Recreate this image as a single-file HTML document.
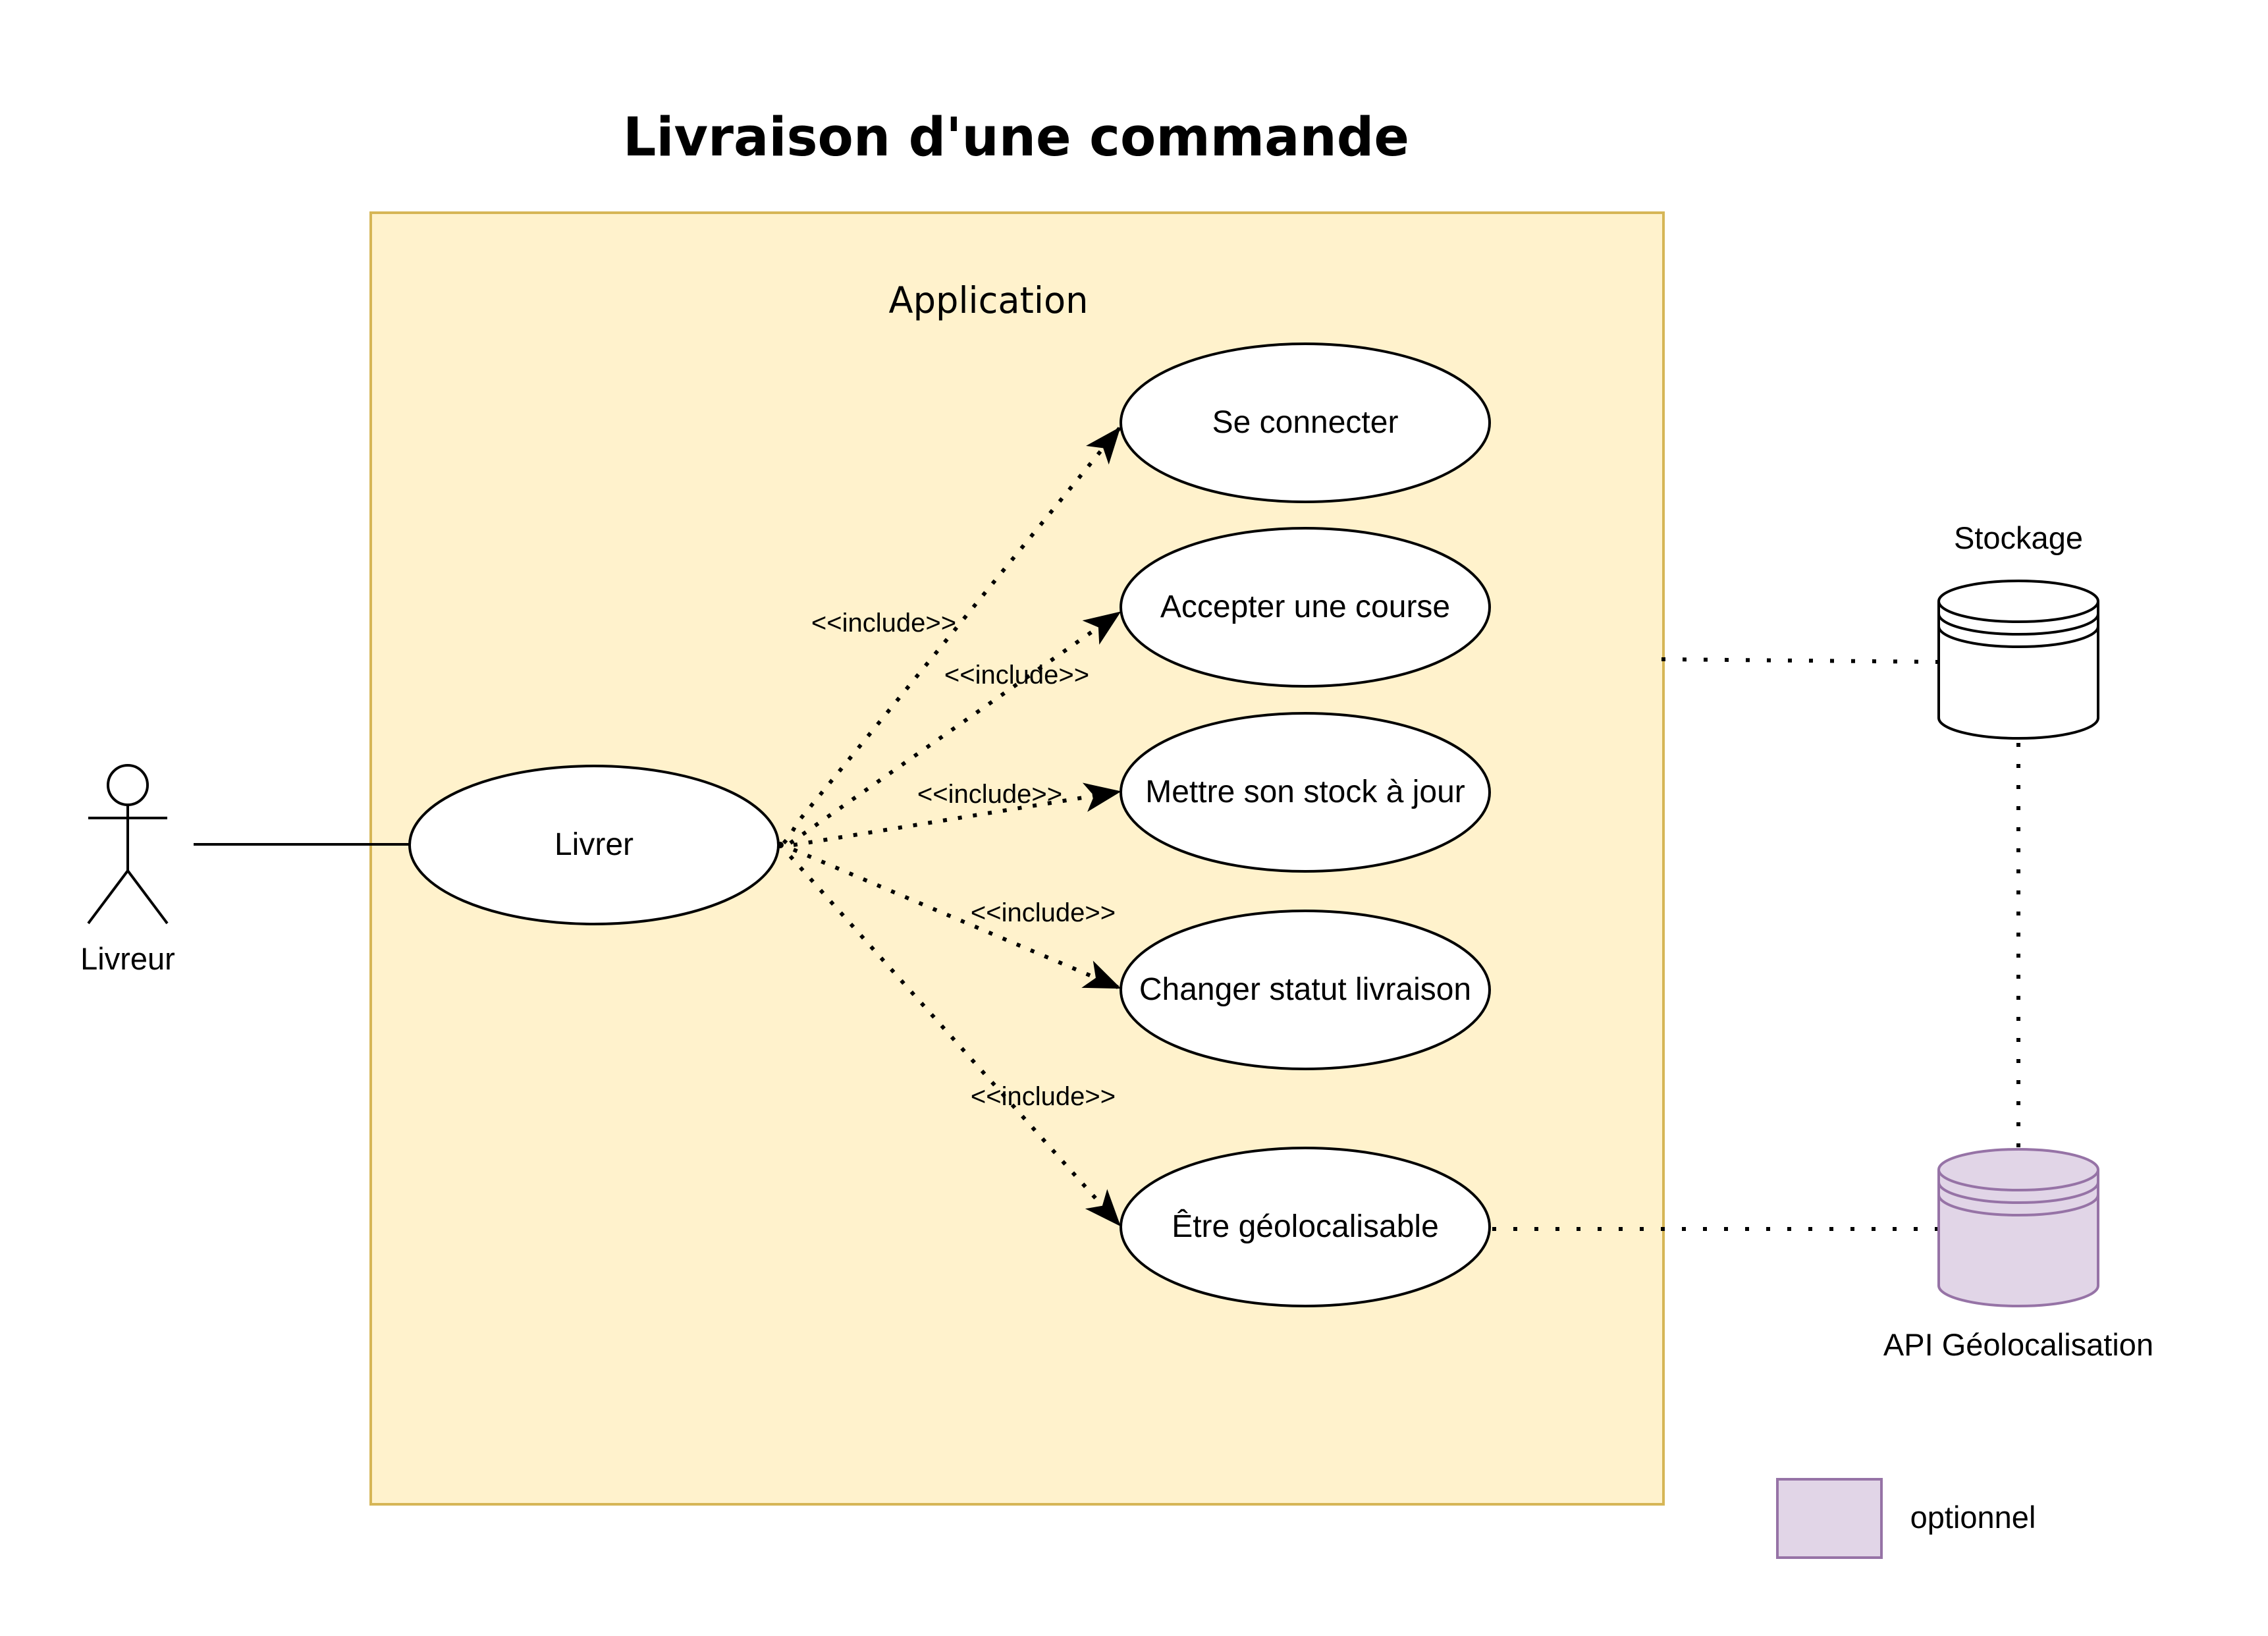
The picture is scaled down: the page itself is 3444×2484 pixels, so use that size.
<!DOCTYPE html>
<html><head><meta charset="utf-8"><style>html,body{margin:0;padding:0;background:#fff}svg{display:block}</style></head>
<body>
<svg width="3444" height="2484" viewBox="0 0 3444 2484" xmlns="http://www.w3.org/2000/svg">
<defs>
<marker id="ar2" viewBox="0 0 40 40" refX="38" refY="20" markerWidth="56" markerHeight="56" markerUnits="userSpaceOnUse" orient="auto">
<path d="M0,4 L40,20 L0,36 L10,20 Z" fill="#000"/>
</marker>
</defs>
<rect width="3444" height="2484" fill="#fff"/>
<text x="1543" y="236" font-family="DejaVu Sans, sans-serif" font-weight="bold" font-size="81" text-anchor="middle" textLength="1194" lengthAdjust="spacingAndGlyphs">Livraison d'une commande</text>
<rect x="563" y="323" width="1963" height="1961" fill="#fff2cc" stroke="#d6b656" stroke-width="4"/>
<text x="1501" y="475" font-family="DejaVu Sans, sans-serif" font-size="55" text-anchor="middle" textLength="303" lengthAdjust="spacingAndGlyphs">Application</text>

<g stroke="#000" stroke-width="4" fill="none">
<ellipse cx="194" cy="1192" rx="30" ry="30" fill="#fff"/>
<line x1="194" y1="1222" x2="194" y2="1322"/>
<line x1="134" y1="1242" x2="254" y2="1242"/>
<line x1="194" y1="1322" x2="134" y2="1402"/>
<line x1="194" y1="1322" x2="254" y2="1402"/>
<line x1="294" y1="1282" x2="623" y2="1282"/>
</g>
<text x="194" y="1472" font-family="Liberation Sans, sans-serif" font-size="47" text-anchor="middle">Livreur</text>

<g stroke="#000" stroke-width="6" fill="none" stroke-dasharray="6 17">
<path d="M1190,1280 Q1200,1270 1210,1250 L1700,650" marker-end="url(#ar2)"/>
<path d="M1200,1280 L1700,930" marker-end="url(#ar2)"/>
<path d="M1205,1283 L1700,1202" marker-end="url(#ar2)"/>
<path d="M1205,1290 L1700,1500" marker-end="url(#ar2)"/>
<path d="M1200,1300 L1700,1860" marker-end="url(#ar2)"/>
</g>
<circle cx="1185" cy="1283" r="5" fill="#000"/>

<g stroke="#000" stroke-width="4" fill="#fff">
<ellipse cx="902" cy="1283" rx="280" ry="120"/>
<ellipse cx="1982" cy="642" rx="280" ry="120"/>
<ellipse cx="1982" cy="922" rx="280" ry="120"/>
<ellipse cx="1982" cy="1203" rx="280" ry="120"/>
<ellipse cx="1982" cy="1503" rx="280" ry="120"/>
<ellipse cx="1982" cy="1863" rx="280" ry="120"/>
</g>
<g font-family="Liberation Sans, sans-serif" font-size="48" text-anchor="middle">
<text x="902" y="1298">Livrer</text>
<text x="1982" y="657">Se connecter</text>
<text x="1982" y="937">Accepter une course</text>
<text x="1982" y="1218">Mettre son stock à jour</text>
<text x="1982" y="1518">Changer statut livraison</text>
<text x="1982" y="1878">Être géolocalisable</text>
</g>
<g font-family="Liberation Sans, sans-serif" font-size="40" text-anchor="middle">
<text x="1342" y="959">&lt;&lt;include&gt;&gt;</text>
<text x="1544" y="1038">&lt;&lt;include&gt;&gt;</text>
<text x="1503" y="1219">&lt;&lt;include&gt;&gt;</text>
<text x="1584" y="1399">&lt;&lt;include&gt;&gt;</text>
<text x="1584" y="1678">&lt;&lt;include&gt;&gt;</text>
</g>

<g stroke="#000" stroke-width="6" fill="none" stroke-dasharray="6 26">
<line x1="2523" y1="1001" x2="2945" y2="1005"/>
<line x1="3065" y1="1128" x2="3065" y2="1745"/>
<line x1="2266" y1="1866" x2="2945" y2="1866"/>
</g>

<text x="3065" y="833" font-family="Liberation Sans, sans-serif" font-size="47" text-anchor="middle">Stockage</text>
<g stroke="#000" stroke-width="4" fill="#fff">
<path d="M2944,913 A121,31 0 0 1 3186,913 L3186,1090 A121,31 0 0 1 2944,1090 Z"/>
<path d="M2944,913 A121,31 0 0 0 3186,913" fill="none"/>
<path d="M2944,932 A121,31 0 0 0 3186,932" fill="none"/>
<path d="M2944,951 A121,31 0 0 0 3186,951" fill="none"/>
</g>

<g stroke="#9673a6" stroke-width="4" fill="#e1d5e7">
<path d="M2944,1776 A121,31 0 0 1 3186,1776 L3186,1952 A121,31 0 0 1 2944,1952 Z"/>
<path d="M2944,1776 A121,31 0 0 0 3186,1776" fill="none"/>
<path d="M2944,1795 A121,31 0 0 0 3186,1795" fill="none"/>
<path d="M2944,1814 A121,31 0 0 0 3186,1814" fill="none"/>
</g>
<text x="3065" y="2058" font-family="Liberation Sans, sans-serif" font-size="47" text-anchor="middle">API Géolocalisation</text>

<rect x="2699" y="2246" width="158" height="119" fill="#e1d5e7" stroke="#9673a6" stroke-width="4"/>
<text x="2996" y="2320" font-family="Liberation Sans, sans-serif" font-size="47" text-anchor="middle">optionnel</text>
</svg>
</body></html>
